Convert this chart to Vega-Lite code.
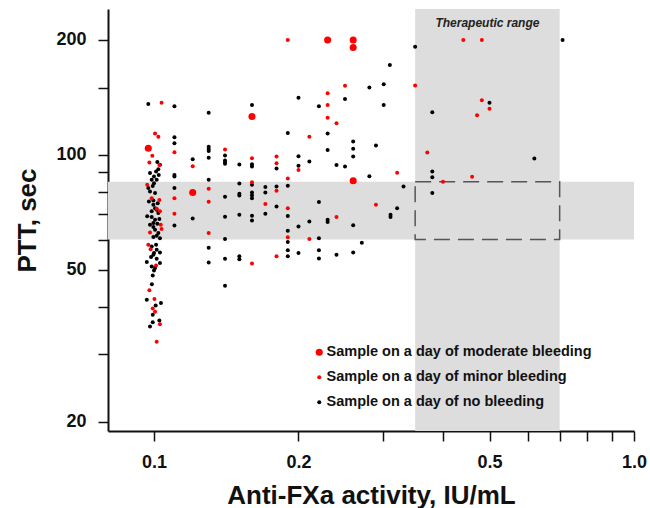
{
"$schema": "https://vega.github.io/schema/vega-lite/v6.json",
"width": 526, "height": 422,
"autosize": {"type": "none"},
"padding": {"left": 108, "top": 9, "right": 16, "bottom": 77},
"background": "white",
"config": {"view": {"stroke": null}, "font": "Liberation Sans"},
"encoding": {
 "x": {"field": "x", "type": "quantitative",
  "scale": {"type": "log", "domain": [0.0802, 1.0], "nice": false, "zero": false},
  "axis": {"values": [0.1,0.2,0.3,0.4,0.5,0.6,0.7,0.8,0.9,1],
   "labelExpr": "datum.value == 0.1 || datum.value == 0.2 || datum.value == 0.5 || datum.value == 1 ? format(datum.value, '.1f') : ''",
   "title": "Anti-FXa activity, IU/mL", "titleFontSize": 26, "titleFontWeight": "bold", "titleColor": "#111",
   "titleBaseline": "alphabetic", "titleY": 72,
   "labelFontSize": 18, "labelFontWeight": "bold", "labelColor": "#111", "labelPadding": 12,
   "labelOverlap": false, "labelFlush": false, "labelBound": false,
   "tickSize": 10, "tickWidth": 1.5, "tickColor": "#111", "domainColor": "#111", "domainWidth": 2, "grid": false}},
 "y": {"field": "y", "type": "quantitative",
  "scale": {"type": "log", "domain": [18.9, 241], "nice": false, "zero": false},
  "axis": {"values": [20,30,40,50,60,70,80,90,100,150,200],
   "labelExpr": "datum.value == 20 || datum.value == 50 || datum.value == 100 || datum.value == 200 ? format(datum.value, 'd') : ''",
   "title": "PTT, sec", "titleFontSize": 26, "titleFontWeight": "bold", "titleColor": "#111",
   "titleBaseline": "alphabetic", "titleX": -73, "titleY": 211, "titleAngle": 270,
   "labelFontSize": 18, "labelFontWeight": "bold", "labelColor": "#111", "labelPadding": 12,
   "labelOverlap": false, "labelFlush": false, "labelBound": false,
   "tickSize": 10, "tickWidth": 1.5, "tickColor": "#111", "domainColor": "#111", "domainWidth": 2, "grid": false}}
},
"layer": [
 {"data": {"values": [{"x": 0.0802, "x2": 1.0, "y": 60, "y2": 85}, {"x": 0.35, "x2": 0.7, "y": 18.9, "y2": 241}]},
  "mark": {"type": "rect", "color": "#dddddd"},
  "encoding": {"x2": {"field": "x2"}, "y2": {"field": "y2"}}},
 {"data": {"values": [{"x": 0.35, "x2": 0.7, "y": 60, "y2": 85}]},
  "mark": {"type": "rect", "filled": false, "fill": null, "stroke": "#555555", "strokeWidth": 1.5, "strokeDash": [16, 8]},
  "encoding": {"x2": {"field": "x2"}, "y2": {"field": "y2"}}},
 {"data": {"values": [{"x": 0.495, "y": 222, "t": "Therapeutic range"}]},
  "mark": {"type": "text", "fontSize": 12, "fontWeight": "bold", "fontStyle": "italic", "color": "#222", "baseline": "middle", "align": "center"},
  "encoding": {"text": {"field": "t"}}},
 {"data": {"values": [
{"x":0.0973,"y":135.8,"b":"none"},{"x":0.1029,"y":94.2,"b":"none"},{"x":0.1021,"y":91.7,"b":"none"},{"x":0.101,"y":90.4,"b":"none"},{"x":0.0981,"y":89.6,"b":"none"},{"x":0.1,"y":87.7,"b":"none"},{"x":0.1023,"y":88.6,"b":"none"},{"x":0.1016,"y":95.7,"b":"none"},{"x":0.0989,"y":86,"b":"none"},{"x":0.1013,"y":86,"b":"none"},{"x":0.0973,"y":81.8,"b":"none"},{"x":0.1,"y":84.3,"b":"none"},{"x":0.0994,"y":82.9,"b":"none"},{"x":0.0981,"y":80.2,"b":"none"},{"x":0.1005,"y":79.4,"b":"none"},{"x":0.0997,"y":75.9,"b":"none"},{"x":0.0976,"y":75.5,"b":"none"},{"x":0.1018,"y":74.7,"b":"none"},{"x":0.0997,"y":74,"b":"none"},{"x":0.1005,"y":72.5,"b":"none"},{"x":0.1013,"y":71.8,"b":"none"},{"x":0.1021,"y":70.4,"b":"none"},{"x":0.0989,"y":71.1,"b":"none"},{"x":0.0968,"y":69,"b":"none"},{"x":0.0989,"y":68.7,"b":"none"},{"x":0.1005,"y":67.6,"b":"none"},{"x":0.1026,"y":67.9,"b":"none"},{"x":0.0997,"y":66.3,"b":"none"},{"x":0.1016,"y":66,"b":"none"},{"x":0.0981,"y":65.6,"b":"none"},{"x":0.0997,"y":64.7,"b":"none"},{"x":0.1005,"y":63.6,"b":"none"},{"x":0.1021,"y":62.4,"b":"none"},{"x":0.1013,"y":61.4,"b":"none"},{"x":0.0997,"y":60.9,"b":"none"},{"x":0.1029,"y":60.5,"b":"none"},{"x":0.0989,"y":57.5,"b":"none"},{"x":0.101,"y":58.1,"b":"none"},{"x":0.1013,"y":56.4,"b":"none"},{"x":0.1,"y":55.3,"b":"none"},{"x":0.1029,"y":55.5,"b":"none"},
{"x":0.0966,"y":52.4,"b":"none"},{"x":0.0986,"y":54,"b":"none"},{"x":0.0997,"y":54.7,"b":"none"},{"x":0.1013,"y":53.4,"b":"none"},{"x":0.1029,"y":52.1,"b":"none"},{"x":0.0989,"y":51,"b":"none"},{"x":0.1,"y":49.8,"b":"none"},{"x":0.1005,"y":50.5,"b":"none"},{"x":0.0994,"y":48.3,"b":"none"},{"x":0.099,"y":45.8,"b":"none"},{"x":0.0966,"y":41.7,"b":"none"},{"x":0.1008,"y":40.3,"b":"none"},{"x":0.1034,"y":40.9,"b":"none"},{"x":0.0994,"y":38.1,"b":"none"},{"x":0.0994,"y":36.4,"b":"none"},{"x":0.1026,"y":36.8,"b":"none"},{"x":0.0981,"y":35.5,"b":"none"},
{"x":0.1103,"y":134,"b":"none"},{"x":0.1103,"y":111.2,"b":"none"},{"x":0.1103,"y":107.3,"b":"none"},{"x":0.1103,"y":88.6,"b":"none"},{"x":0.1103,"y":87.7,"b":"none"},{"x":0.1103,"y":81.8,"b":"none"},{"x":0.1103,"y":65.3,"b":"none"},
{"x":0.1204,"y":97.4,"b":"none"},{"x":0.1204,"y":68.1,"b":"none"},
{"x":0.13,"y":128.8,"b":"none"},{"x":0.13,"y":105,"b":"none"},{"x":0.13,"y":103.5,"b":"none"},{"x":0.13,"y":102.4,"b":"none"},{"x":0.13,"y":98.2,"b":"none"},{"x":0.13,"y":86,"b":"none"},{"x":0.13,"y":57.1,"b":"none"},{"x":0.13,"y":52.2,"b":"none"},
{"x":0.1406,"y":99.6,"b":"none"},{"x":0.1406,"y":96.6,"b":"none"},{"x":0.1406,"y":95.7,"b":"none"},{"x":0.1406,"y":94.7,"b":"none"},{"x":0.1406,"y":77.6,"b":"none"},{"x":0.1406,"y":68.8,"b":"none"},{"x":0.1406,"y":60.2,"b":"none"},{"x":0.1406,"y":53.4,"b":"none"},{"x":0.1406,"y":45.4,"b":"none"},
{"x":0.1506,"y":94.3,"b":"none"},{"x":0.1506,"y":84.1,"b":"none"},{"x":0.1506,"y":79.1,"b":"none"},{"x":0.1506,"y":78.2,"b":"none"},{"x":0.1506,"y":69.7,"b":"none"},{"x":0.1506,"y":54.2,"b":"none"},{"x":0.1506,"y":53.3,"b":"none"},
{"x":0.16,"y":135,"b":"none"},{"x":0.16,"y":94.5,"b":"none"},{"x":0.16,"y":93.2,"b":"none"},{"x":0.16,"y":83.5,"b":"none"},{"x":0.16,"y":79.7,"b":"none"},{"x":0.16,"y":78.3,"b":"none"},{"x":0.16,"y":76.9,"b":"none"},{"x":0.16,"y":69.2,"b":"none"},{"x":0.16,"y":67.3,"b":"none"},
{"x":0.1706,"y":82.3,"b":"none"},{"x":0.1706,"y":79.7,"b":"none"},{"x":0.1706,"y":70.1,"b":"none"},
{"x":0.18,"y":92.1,"b":"none"},{"x":0.18,"y":82.6,"b":"none"},{"x":0.18,"y":73.2,"b":"none"},
{"x":0.19,"y":114,"b":"none"},{"x":0.19,"y":83,"b":"none"},{"x":0.19,"y":69.1,"b":"none"},{"x":0.19,"y":63.3,"b":"none"},{"x":0.19,"y":59.1,"b":"none"},{"x":0.19,"y":56.2,"b":"none"},{"x":0.19,"y":54.2,"b":"none"},
{"x":0.2,"y":141,"b":"none"},{"x":0.2,"y":99.2,"b":"none"},{"x":0.2,"y":93.6,"b":"none"},{"x":0.2,"y":64.9,"b":"none"},{"x":0.2,"y":55.3,"b":"none"},
{"x":0.2107,"y":96,"b":"none"},{"x":0.2107,"y":66.9,"b":"none"},
{"x":0.2206,"y":134,"b":"none"},{"x":0.2206,"y":75.2,"b":"none"},{"x":0.2206,"y":60.5,"b":"none"},{"x":0.2206,"y":56.2,"b":"none"},{"x":0.2206,"y":53.5,"b":"none"},
{"x":0.23,"y":113.7,"b":"none"},{"x":0.23,"y":103,"b":"none"},{"x":0.23,"y":67.6,"b":"none"},{"x":0.23,"y":66.7,"b":"none"},
{"x":0.24,"y":94.1,"b":"none"},{"x":0.24,"y":54.7,"b":"none"},
{"x":0.25,"y":140,"b":"none"},{"x":0.25,"y":93.2,"b":"none"},
{"x":0.26,"y":108.4,"b":"none"},{"x":0.26,"y":103.7,"b":"none"},{"x":0.26,"y":99,"b":"none"},{"x":0.26,"y":65.4,"b":"none"},{"x":0.26,"y":55.5,"b":"none"},
{"x":0.271,"y":58.8,"b":"none"},{"x":0.281,"y":150,"b":"none"},{"x":0.281,"y":87.9,"b":"none"},{"x":0.29,"y":105.8,"b":"none"},
{"x":0.301,"y":153,"b":"none"},{"x":0.301,"y":135,"b":"none"},{"x":0.31,"y":172,"b":"none"},
{"x":0.311,"y":69.7,"b":"none"},{"x":0.311,"y":68.7,"b":"none"},{"x":0.321,"y":72.5,"b":"none"},{"x":0.331,"y":82.6,"b":"none"},
{"x":0.35,"y":192,"b":"none"},{"x":0.38,"y":129.3,"b":"none"},{"x":0.38,"y":90.4,"b":"none"},{"x":0.38,"y":87.4,"b":"none"},{"x":0.38,"y":79.4,"b":"none"},
{"x":0.5,"y":136.8,"b":"none"},{"x":0.62,"y":97.8,"b":"none"},{"x":0.71,"y":200,"b":"none"},
{"x":0.1037,"y":137,"b":"minor"},{"x":0.1005,"y":113.7,"b":"minor"},{"x":0.1021,"y":111.6,"b":"minor"},{"x":0.0992,"y":99.4,"b":"minor"},{"x":0.0978,"y":95.5,"b":"minor"},{"x":0.1026,"y":94,"b":"minor"},
{"x":0.0968,"y":83.5,"b":"minor"},{"x":0.0989,"y":77,"b":"minor"},{"x":0.1026,"y":76.2,"b":"minor"},{"x":0.1013,"y":72.2,"b":"minor"},{"x":0.1029,"y":71.1,"b":"minor"},{"x":0.1033,"y":65.6,"b":"minor"},{"x":0.1037,"y":63.9,"b":"minor"},{"x":0.0981,"y":62.6,"b":"minor"},
{"x":0.0973,"y":58.1,"b":"minor"},{"x":0.0984,"y":56.6,"b":"minor"},{"x":0.101,"y":51.3,"b":"minor"},{"x":0.0978,"y":44.2,"b":"minor"},{"x":0.1002,"y":41.9,"b":"minor"},{"x":0.0994,"y":39.6,"b":"minor"},{"x":0.1005,"y":38.8,"b":"minor"},{"x":0.1029,"y":36,"b":"minor"},{"x":0.1013,"y":32.4,"b":"minor"},
{"x":0.1103,"y":101.6,"b":"minor"},{"x":0.1103,"y":77,"b":"minor"},{"x":0.1103,"y":70.1,"b":"minor"},
{"x":0.1204,"y":93.4,"b":"minor"},
{"x":0.13,"y":81.5,"b":"minor"},{"x":0.13,"y":75.4,"b":"minor"},{"x":0.13,"y":62.4,"b":"minor"},
{"x":0.1406,"y":103.2,"b":"minor"},
{"x":0.16,"y":98,"b":"minor"},{"x":0.16,"y":84.8,"b":"minor"},{"x":0.16,"y":51.9,"b":"minor"},
{"x":0.1706,"y":74.3,"b":"minor"},
{"x":0.18,"y":99,"b":"minor"},{"x":0.18,"y":95.1,"b":"minor"},{"x":0.18,"y":80.5,"b":"minor"},{"x":0.18,"y":54.2,"b":"minor"},
{"x":0.19,"y":200,"b":"minor"},{"x":0.19,"y":86.7,"b":"minor"},{"x":0.19,"y":72.5,"b":"minor"},{"x":0.19,"y":60.8,"b":"minor"},
{"x":0.2,"y":91.3,"b":"minor"},
{"x":0.2107,"y":111.6,"b":"minor"},{"x":0.2107,"y":60.2,"b":"minor"},
{"x":0.23,"y":145,"b":"minor"},{"x":0.23,"y":135,"b":"minor"},{"x":0.23,"y":125,"b":"minor"},
{"x":0.24,"y":121,"b":"minor"},{"x":0.24,"y":68.7,"b":"minor"},
{"x":0.25,"y":151.6,"b":"minor"},{"x":0.29,"y":74,"b":"minor"},{"x":0.321,"y":89.7,"b":"minor"},{"x":0.35,"y":152,"b":"minor"},{"x":0.371,"y":101.4,"b":"minor"},{"x":0.4,"y":85,"b":"minor"},
{"x":0.441,"y":200,"b":"minor"},{"x":0.482,"y":200,"b":"minor"},{"x":0.482,"y":139,"b":"minor"},{"x":0.5,"y":132,"b":"minor"},{"x":0.471,"y":127,"b":"minor"},{"x":0.46,"y":87.6,"b":"minor"},
{"x":0.0973,"y":104,"b":"moderate"},{"x":0.1204,"y":79.7,"b":"moderate"},{"x":0.16,"y":126,"b":"moderate"},{"x":0.23,"y":200,"b":"moderate"},{"x":0.26,"y":200,"b":"moderate"},{"x":0.26,"y":191,"b":"moderate"},{"x":0.26,"y":85.5,"b":"moderate"}
 ]},
  "mark": {"type": "point", "filled": true, "opacity": 1, "strokeWidth": 0},
  "encoding": {
   "color": {"field": "b", "type": "nominal",
    "scale": {"domain": ["moderate", "minor", "none"], "range": ["#ff0000", "#ff0000", "#000000"]},
    "legend": {"orient": "none", "legendX": 204, "legendY": 336, "title": null, "padding": 0,
     "labelExpr": "datum.label == 'moderate' ? 'Sample on a day of moderate bleeding' : datum.label == 'minor' ? 'Sample on a day of minor bleeding' : 'Sample on a day of no bleeding'",
     "labelFontSize": 14.5, "labelFontWeight": "bold", "labelColor": "#111", "labelOffset": 0, "labelLimit": 400,
     "rowPadding": 10, "symbolType": "circle", "symbolStrokeWidth": 0}},
   "size": {"field": "b", "type": "nominal",
    "scale": {"type": "ordinal", "domain": ["moderate", "minor", "none"], "range": [50, 16, 16]},
    "legend": {"orient": "none", "legendX": 204, "legendY": 336, "title": null, "padding": 0,
     "labelExpr": "datum.label == 'moderate' ? 'Sample on a day of moderate bleeding' : datum.label == 'minor' ? 'Sample on a day of minor bleeding' : 'Sample on a day of no bleeding'",
     "labelFontSize": 14.5, "labelFontWeight": "bold", "labelColor": "#111", "labelOffset": 0, "labelLimit": 400,
     "rowPadding": 10, "symbolType": "circle", "symbolStrokeWidth": 0}}
  }}
]
}
